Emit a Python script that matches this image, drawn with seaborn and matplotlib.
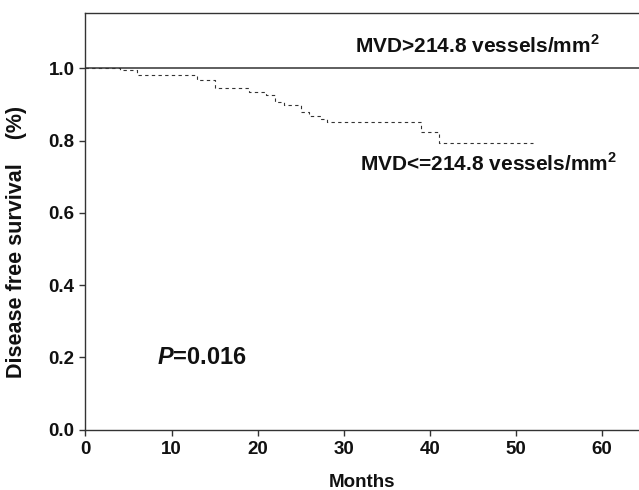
import matplotlib
matplotlib.use("Agg")
import matplotlib.pyplot as plt
import seaborn as sns
import pandas as pd

# Data
high_months = [0, 65]
high_surv = [1.0, 1.0]
low_months = [0, 4, 6, 13, 15, 19, 21, 22, 23, 25, 26, 27.4, 28, 39, 41, 52]
low_surv = [1.0, 0.994, 0.980, 0.967, 0.944, 0.934, 0.925, 0.907, 0.897, 0.880, 0.869, 0.860, 0.850, 0.823, 0.792, 0.792]
x_ticks = [0, 10, 20, 30, 40, 50, 60]
y_ticks = [0.0, 0.2, 0.4, 0.6, 0.8, 1.0]
label_high = "MVD>214.8 vessels/mm$^\\mathbf{2}$"
label_low = "MVD<=214.8 vessels/mm$^\\mathbf{2}$"

sns.set_style("white")
plt.rcParams['font.family'] = ['Liberation Sans', 'DejaVu Sans']
plt.rcParams['mathtext.fontset'] = 'custom'
plt.rcParams['mathtext.bf'] = 'Liberation Sans:bold'
plt.rcParams['mathtext.rm'] = 'Liberation Sans'
plt.rcParams['mathtext.bfit'] = 'Liberation Sans:bold:italic'

df_high = pd.DataFrame({"Months": high_months, "Survival": high_surv})
df_low = pd.DataFrame({"Months": low_months, "Survival": low_surv})

fig = plt.figure(figsize=(6.39, 4.90), dpi=100)
ax = fig.add_axes([85.5 / 639, 1 - 429.7 / 490, (639 - 85.5) / 639, (429.7 - 13.3) / 490])

sns.lineplot(data=df_high, x="Months", y="Survival", ax=ax, color="#333333",
             linewidth=1.1, drawstyle="steps-post")
sns.lineplot(data=df_low, x="Months", y="Survival", ax=ax, color="#333333",
             linewidth=0.8, drawstyle="steps-post", dashes=False)
ax.lines[-1].set_dashes([3, 3])

ax.set_xlim(0, (639 - 85.5) / 8.61)
ax.set_ylim(0, 1.152)
ax.set_xticks(x_ticks)
ax.set_yticks(y_ticks)
ax.set_yticklabels([f"{v:.1f}" for v in y_ticks])
for s in ["left", "top", "bottom"]:
    ax.spines[s].set_visible(True)
    ax.spines[s].set_color("#333333")
    ax.spines[s].set_linewidth(1.0)
ax.spines["right"].set_visible(False)
ax.tick_params(axis="both", direction="out", length=4, width=1, color="#333333",
               labelsize=13.5, pad=4, bottom=True, left=True)
for lab in ax.get_xticklabels() + ax.get_yticklabels():
    lab.set_fontweight("bold")
    lab.set_color("#111111")

ax.set_xlabel("Months", fontsize=13.5, fontweight="bold", color="#111111", labelpad=12)
ax.set_ylabel("Disease free survival    (%)", fontsize=15.5, fontweight="bold", color="#111111", labelpad=12)
ax.yaxis.set_label_coords(-0.105, 0.45)

ax.text(477, 45, label_high, transform=None, fontsize=15, fontweight="bold",
        ha="center", va="center", color="#111111")
ax.text(488, 163, label_low, transform=None, fontsize=15, fontweight="bold",
        ha="center", va="center", color="#111111")
ax.text(202, 357, "$\\mathbfit{P}$=0.016", transform=None, fontsize=17, fontweight="bold",
        ha="center", va="center", color="#111111")

# place texts with data coords computed from pixel positions
fig.canvas.draw()
inv = ax.transData.inverted()
for t in ax.texts:
    px, py = t.get_position()
    dx, dy = inv.transform((px, 490 - py))
    t.set_transform(ax.transData)
    t.set_position((dx, dy))

fig.savefig("out.png", dpi=100)
